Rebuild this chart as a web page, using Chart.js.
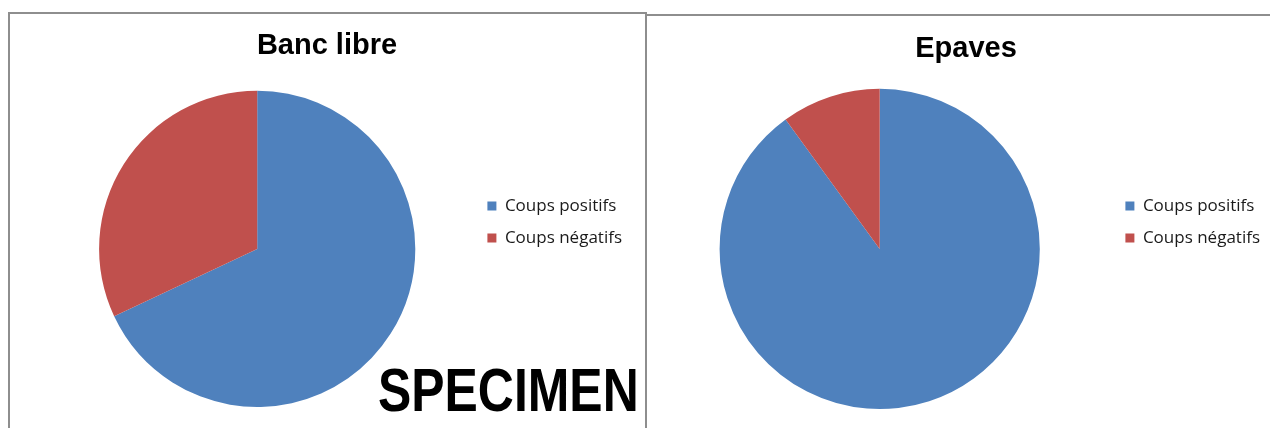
<!DOCTYPE html>
<html>
<head>
<meta charset="utf-8">
<script src="https://cdn.jsdelivr.net/npm/chart.js@4.4.1/dist/chart.umd.min.js"></script>
<style>
  html, body { margin: 0; padding: 0; background: #fff; overflow: hidden; width: 1270px; height: 428px; }
  .box { position: absolute; border: 2px solid #8e8e8e; box-sizing: border-box; background: #fff; }
  .wrap { position: absolute; }
  #specimen {
    position: absolute; left: 378px; top: 359px;
    font: bold 62px "Liberation Sans", Arial, sans-serif; line-height: 62px;
    color: #000; transform: scaleX(0.805); transform-origin: left top; white-space: nowrap;
  }
</style>
</head>
<body>
<div class="box" style="left:8px; top:12px; width:639px; height:440px;"></div>
<div class="box" style="left:645px; top:14px; width:660px; height:440px;"></div>
<div class="wrap" style="left:10px; top:14px; width:634px; height:400px;"><canvas id="left"></canvas></div>
<div class="wrap" style="left:649px; top:16px; width:632px; height:400px;"><canvas id="right"></canvas></div>
<div id="specimen">SPECIMEN</div>
<script>
const categories = ['Coups positifs', 'Coups négatifs'];
const bancLibre = [68, 32];
const epaves = [90, 10];
const colors = ['#4F81BD', '#C0504D'];

// the title sits centred over the whole box in the original, not over canvas minus padding
const shiftTitle = {
    id: 'shiftTitle',
    afterLayout(chart, args, opts) {
        if (chart.titleBlock) {
            chart.titleBlock.left += opts.dx;
            chart.titleBlock.right += opts.dx;
        }
    }
};

function makePie(id, title, values, pad, titlePad, legendTop, dx) {
    const ctx = document.getElementById(id).getContext('2d');
    return new Chart(ctx, {
        type: 'pie',
        data: {
            labels: categories,
            datasets: [{
                data: values,
                backgroundColor: colors,
                borderWidth: 0
            }]
        },
        options: {
            responsive: true,
            maintainAspectRatio: false,
            animation: false,
            layout: { padding: pad },
            plugins: {
                shiftTitle: { dx: dx },
                title: {
                    display: true,
                    text: title,
                    color: '#000',
                    font: { family: '"Liberation Sans", Arial, sans-serif', size: 29, weight: 'bold' },
                    padding: titlePad
                },
                legend: {
                    position: 'right',
                    align: 'start',
                    // empty legend title only used to push the items down
                    title: { display: true, text: '', font: { size: 12 }, padding: { top: legendTop, bottom: 0 } },
                    labels: {
                        boxWidth: 9,
                        boxHeight: 9,
                        padding: 15,
                        color: '#1a1a1a',
                        font: { family: '"Open Sans", sans-serif', size: 17 }
                    }
                },
                tooltip: { enabled: false }
            }
        },
        plugins: [shiftTitle]
    });
}

makePie('left', 'Banc libre', bancLibre, { left: 32, right: 12, top: 0, bottom: 7 }, { top: 15, bottom: 27 }, 154, -10);
makePie('right', 'Epaves', epaves, { left: 0, right: 11, top: 0, bottom: 7 }, { top: 16, bottom: 22 }, 152, 6.5);
</script>
</body>
</html>
